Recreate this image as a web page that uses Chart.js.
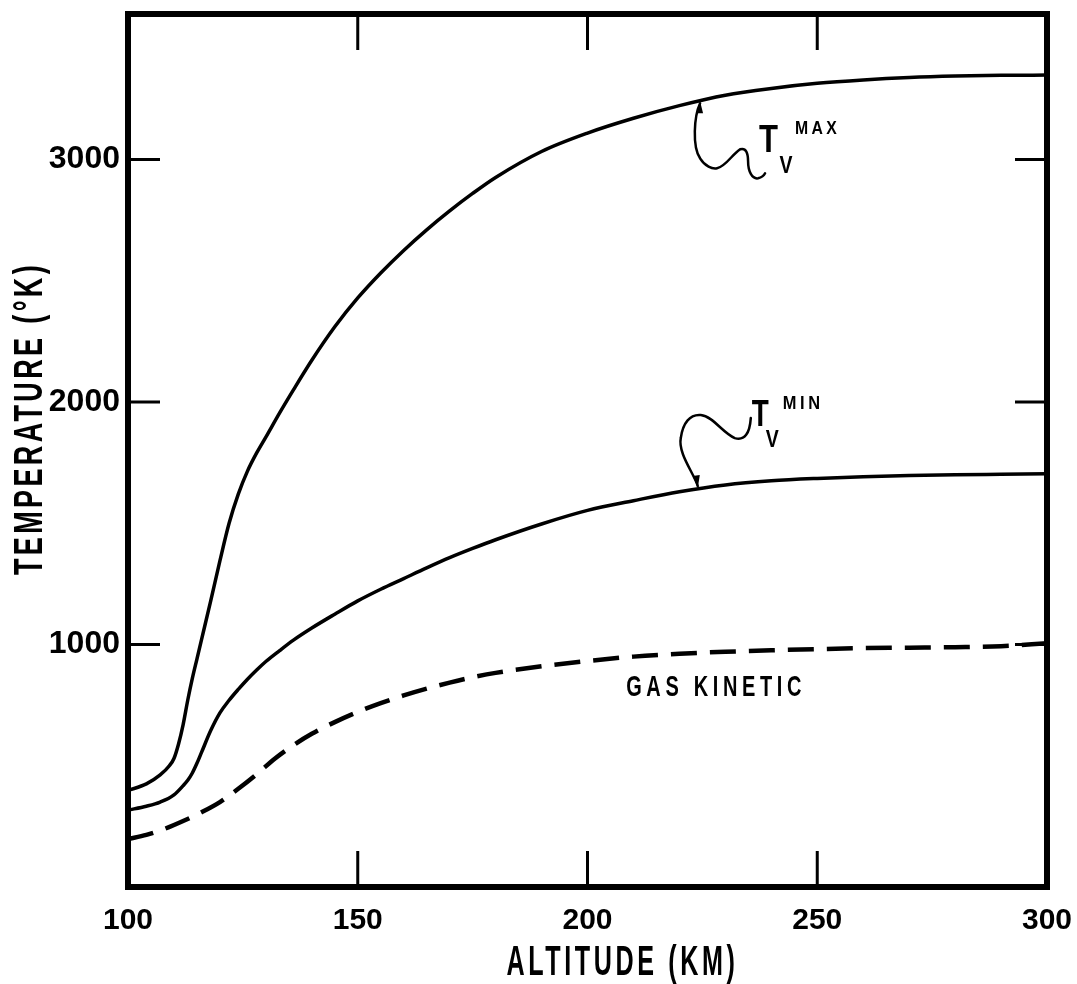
<!DOCTYPE html>
<html>
<head>
<meta charset="utf-8">
<script src="https://cdn.jsdelivr.net/npm/chart.js@4.4.1/dist/chart.umd.min.js"></script>
<style>
  html, body { margin: 0; background: #fff; }
</style>
</head>
<body>
<canvas id="chart" width="1077" height="984"></canvas>
<script>
// Data (altitude in km, temperature in °K)
const maxAltitude = [100,104,107,109,110,111,112,113,114,115,116,118,120,122,124,126,128,130,133,136,140,145,150,155,160,165,170,175,180,190,200,210,220,230,240,250,260,270,280,290,300];
const tvMax       = [398,425,462,500,530,590,670,770,860,940,1020,1180,1345,1500,1620,1715,1790,1855,1955,2050,2172,2310,2429,2532,2625,2710,2788,2860,2926,3033,3109,3170,3222,3265,3293,3314,3328,3338,3344,3347,3348];

const minAltitude = [100,104,107,110,112,113,114,115,116,118,120,122,124,126,128,130,133,136,140,145,150,155,160,165,170,175,180,190,200,210,220,230,240,250,260,270,280,290,300];
const tvMin       = [317,333,350,380,418,440,470,510,555,645,718,770,815,857,895,930,975,1018,1068,1125,1180,1228,1272,1316,1358,1396,1432,1497,1553,1593,1630,1658,1675,1685,1692,1697,1700,1702,1704];

const gasAltitude = [100,104,108,112,116,120,124,128,132,136,140,145,150,155,160,165,170,175,180,190,200,210,220,230,240,250,260,270,280,290,300];
const gasKinetic  = [198,215,240,272,308,350,405,465,530,585,632,680,722,758,790,818,843,865,883,910,932,950,962,970,976,981,985,987,989,993,1005];

const xTicks = [100,150,200,250,300];
const yTicks = [1000,2000,3000];

const FONT = '"Liberation Sans", Arial, sans-serif';

const toPoints = (xs, ys) => xs.map((x, i) => ({ x, y: ys[i] }));

// text squeezed to a given width, like the narrow lettering of the original
function fitText(ctx, text, cx, cy, width, px, spacing) {
  ctx.save();
  ctx.font = 'bold ' + px + 'px ' + FONT;
  ctx.letterSpacing = (spacing || 0) + 'px';
  const w = ctx.measureText(text).width;
  ctx.translate(cx, cy);
  ctx.scale(width / w, 1);
  ctx.textAlign = 'center';
  ctx.textBaseline = 'middle';
  ctx.fillText(text, 0, 0);
  ctx.restore();
}

// Frame, inward ticks, titles and curve labels
const decorations = {
  id: 'decorations',
  afterDraw(chart) {
    const { ctx, chartArea: a, scales: { x, y } } = chart;
    ctx.save();
    ctx.strokeStyle = '#000';
    ctx.fillStyle = '#000';

    // frame
    ctx.lineWidth = 6;
    ctx.strokeRect(a.left, a.top, a.right - a.left, a.bottom - a.top);

    // inward ticks
    ctx.lineWidth = 3;
    xTicks.slice(1, -1).forEach(v => {
      const px = x.getPixelForValue(v);
      ctx.beginPath();
      ctx.moveTo(px, a.bottom); ctx.lineTo(px, a.bottom - 36);
      ctx.moveTo(px, a.top); ctx.lineTo(px, a.top + 36);
      ctx.stroke();
    });
    yTicks.forEach(v => {
      const py = y.getPixelForValue(v);
      ctx.beginPath();
      ctx.moveTo(a.left, py); ctx.lineTo(a.left + 32, py);
      ctx.moveTo(a.right, py); ctx.lineTo(a.right - 32, py);
      ctx.stroke();
    });

    // axis titles
    fitText(ctx, 'ALTITUDE (KM)', (a.left + a.right) / 2 + 35, 963, 232, 42, 6);
    ctx.save();
    ctx.translate(31, (a.top + a.bottom) / 2 - 32);
    ctx.rotate(-Math.PI / 2);
    fitText(ctx, 'TEMPERATURE (°K)', 0, 0, 313, 40, 5);
    ctx.restore();

    // gas kinetic label
    fitText(ctx, 'GAS KINETIC', x.getPixelForValue(228), y.getPixelForValue(822), 180, 30, 7);

    // Tv labels with squiggle arrows
    ctx.lineWidth = 2.5;
    ctx.lineJoin = 'round';
    ctx.lineCap = 'round';

    // MAX
    ctx.save();
    ctx.translate(x.getPixelForValue(224.5), y.getPixelForValue(3240));
    ctx.beginPath();
    ctx.moveTo(0, 2);
    ctx.bezierCurveTo(-6, 15, -8, 45, 0, 57);
    ctx.bezierCurveTo(5, 65, 12, 68, 17, 67);
    ctx.bezierCurveTo(26, 65, 33, 52, 40, 48);
    ctx.bezierCurveTo(46, 46, 48, 52, 48, 60);
    ctx.bezierCurveTo(48, 70, 52, 78, 58, 77);
    ctx.bezierCurveTo(62, 76, 64, 74, 65, 72);
    ctx.stroke();
    ctx.beginPath();
    ctx.moveTo(0, 0); ctx.lineTo(-4, 12); ctx.lineTo(3, 12); ctx.closePath(); ctx.fill();
    fitText(ctx, 'T', 68.5, 40.5, 19, 38, 0);
    fitText(ctx, 'V', 86, 65.5, 13, 24, 0);
    fitText(ctx, 'MAX', 117.5, 27, 45, 19, 4);
    ctx.restore();

    // MIN
    ctx.save();
    ctx.translate(x.getPixelForValue(224), y.getPixelForValue(1645));
    ctx.beginPath();
    ctx.moveTo(0, -2);
    ctx.bezierCurveTo(-4, -15, -20, -35, -17, -50);
    ctx.bezierCurveTo(-15, -65, -8, -74, 3, -73);
    ctx.bezierCurveTo(15, -72, 25, -55, 37, -50);
    ctx.bezierCurveTo(47, -47, 52, -55, 53, -70);
    ctx.stroke();
    ctx.beginPath();
    ctx.moveTo(0, 0); ctx.lineTo(-5, -12); ctx.lineTo(2, -13); ctx.closePath(); ctx.fill();
    fitText(ctx, 'T', 62.5, -72.5, 17, 36, 0);
    fitText(ctx, 'V', 74.5, -48, 13, 24, 0);
    fitText(ctx, 'MIN', 105.5, -84, 41, 18, 4);
    ctx.restore();

    ctx.restore();
  }
};

new Chart(document.getElementById('chart'), {
  type: 'line',
  data: {
    datasets: [
      { label: 'Tv max', data: toPoints(maxAltitude, tvMax), borderColor: '#000', borderWidth: 3.5 },
      { label: 'Tv min', data: toPoints(minAltitude, tvMin), borderColor: '#000', borderWidth: 3.5 },
      { label: 'Gas kinetic', data: toPoints(gasAltitude, gasKinetic), borderColor: '#000', borderWidth: 4.5, borderDash: [26, 13] }
    ]
  },
  options: {
    responsive: false,
    animation: false,
    layout: { padding: { top: 14, right: 30, left: 0, bottom: 0 } },
    elements: {
      point: { radius: 0 },
      line: { cubicInterpolationMode: 'monotone', fill: false }
    },
    plugins: { legend: { display: false }, tooltip: { enabled: false } },
    scales: {
      x: {
        type: 'linear', min: 100, max: 300,
        grid: { display: false, drawTicks: false },
        border: { display: false },
        afterBuildTicks: s => { s.ticks = xTicks.map(value => ({ value })); },
        afterFit: s => { s.height = 97; s.paddingLeft = 0; s.paddingRight = 0; },
        ticks: {
          maxRotation: 0, autoSkip: false, padding: 16,
          color: '#000', font: { family: FONT, size: 30, weight: 'bold' },
          callback: v => String(v)
        }
      },
      y: {
        type: 'linear', min: 0, max: 3600,
        grid: { display: false, drawTicks: false },
        border: { display: false },
        afterBuildTicks: s => { s.ticks = yTicks.map(value => ({ value })); },
        afterFit: s => { s.width = 128; s.paddingTop = 0; s.paddingBottom = 0; },
        ticks: {
          autoSkip: false, padding: 8,
          color: '#000', font: { family: FONT, size: 32, weight: 'bold' },
          callback: v => String(v)
        }
      }
    }
  },
  plugins: [decorations]
});
</script>
</body>
</html>
